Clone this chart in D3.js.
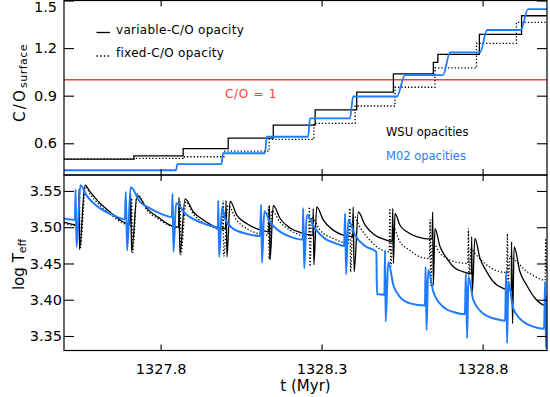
<!DOCTYPE html>
<html>
<head>
<meta charset="utf-8">
<script src="https://cdn.jsdelivr.net/npm/d3@7"></script>
<style>
  body { margin: 0; background: #fff; }
  svg { display: block; font-family: "DejaVu Sans", sans-serif; }
</style>
</head>
<body>
<div id="chart"></div>
<script>
// surface C/O, [t (Myr), C/O] -- steps after each pulse
const coVariable = [[1327.500,0.500],[1327.717,0.520],[1327.870,0.566],[1328.010,0.633],[1328.150,0.715],[1328.280,0.810],
  [1328.409,0.922],[1328.523,1.037],[1328.647,1.110],[1328.661,1.161],[1328.790,1.287],[1328.921,1.404],[1329.000,1.404]]
const coFixed = [[1327.500,0.500],[1327.717,0.505],[1327.870,0.515],[1327.997,0.551],[1328.137,0.625],[1328.276,0.726],
  [1328.404,0.835],[1328.528,0.953],[1328.652,1.075],[1328.781,1.230],[1328.905,1.362],[1329.000,1.362]]
const coM02 = [[1327.500,0.430],[1327.848,0.430],[1327.852,0.468],[1327.989,0.468],[1327.994,0.537],[1328.124,0.537],
  [1328.130,0.641],[1328.258,0.641],[1328.264,0.757],[1328.388,0.757],[1328.398,0.895],[1328.534,0.895],[1328.559,1.030],
  [1328.677,1.030],[1328.699,1.173],[1328.792,1.173],[1328.814,1.314],[1328.919,1.314],[1328.941,1.446],[1329.000,1.446]]

// log Teff, [t (Myr), log Teff]
const teffVariable = [[1327.500,3.507],[1327.545,3.503],[1327.547,3.553],[1327.548,3.469],[1327.565,3.558],[1327.581,3.549],
  [1327.612,3.533],[1327.643,3.521],[1327.674,3.510],[1327.704,3.504],
  [1327.707,3.545],[1327.710,3.466],[1327.727,3.544],[1327.757,3.526],[1327.798,3.512],[1327.829,3.503],[1327.856,3.500],
  [1327.857,3.541],[1327.860,3.463],[1327.876,3.539],[1327.902,3.521],[1327.933,3.510],[1327.974,3.500],[1328.002,3.498],
  [1328.003,3.537],[1328.006,3.459],[1328.016,3.536],[1328.036,3.517],[1328.067,3.505],[1328.098,3.498],[1328.136,3.494],
  [1328.138,3.530],[1328.140,3.455],[1328.150,3.530],[1328.171,3.512],[1328.202,3.499],[1328.233,3.493],[1328.273,3.489],
  [1328.274,3.526],[1328.276,3.448],[1328.285,3.528],[1328.305,3.510],[1328.336,3.496],[1328.367,3.489],[1328.397,3.487],
  [1328.398,3.528],[1328.401,3.4385],[1328.414,3.521],[1328.435,3.503],[1328.466,3.489],[1328.497,3.483],[1328.519,3.480],
  [1328.521,3.526],[1328.523,3.450],[1328.528,3.519],[1328.543,3.503],[1328.564,3.494],[1328.595,3.487],[1328.643,3.4835],
  [1328.645,3.521],[1328.647,3.420],[1328.652,3.498],[1328.668,3.473],[1328.689,3.457],[1328.709,3.4455],[1328.740,3.4385],[1328.765,3.436],
  [1328.766,3.487],[1328.768,3.409],[1328.776,3.4845],[1328.792,3.457],[1328.813,3.4385],[1328.833,3.425],[1328.864,3.4157],[1328.889,3.413],
  [1328.890,3.480],[1328.893,3.367],[1328.898,3.473],[1328.916,3.4385],[1328.937,3.420],[1328.963,3.402],[1328.988,3.393],[1329.000,3.392]]
const teffFixed = [[1327.500,3.505],[1327.545,3.502],[1327.548,3.548],[1327.550,3.470],[1327.567,3.556],[1327.581,3.546],
  [1327.612,3.530],[1327.643,3.518],[1327.674,3.508],[1327.708,3.502],
  [1327.710,3.540],[1327.713,3.465],[1327.727,3.546],[1327.757,3.524],[1327.798,3.510],[1327.829,3.502],[1327.858,3.499],
  [1327.861,3.535],[1327.863,3.462],[1327.879,3.535],[1327.902,3.518],[1327.933,3.506],[1327.974,3.498],[1327.992,3.496],
  [1327.994,3.537],[1327.996,3.460],[1328.009,3.530],[1328.036,3.510],[1328.067,3.498],[1328.098,3.492],[1328.133,3.489],
  [1328.135,3.528],[1328.137,3.456],[1328.145,3.523],[1328.171,3.507],[1328.202,3.496],[1328.233,3.489],[1328.260,3.4845],
  [1328.262,3.528],[1328.264,3.446],[1328.269,3.514],[1328.295,3.496],[1328.336,3.4845],[1328.383,3.478],
  [1328.388,3.526],[1328.390,3.4385],[1328.398,3.517],[1328.419,3.500],[1328.450,3.482],[1328.481,3.470],[1328.510,3.466],
  [1328.512,3.526],[1328.515,3.446],[1328.522,3.500],[1328.543,3.480],[1328.575,3.468],[1328.606,3.459],[1328.635,3.457],
  [1328.637,3.510],[1328.639,3.420],[1328.644,3.480],[1328.668,3.464],[1328.699,3.4546],[1328.730,3.451],[1328.754,3.450],
  [1328.756,3.498],[1328.758,3.434],[1328.764,3.470],[1328.776,3.464],[1328.807,3.450],[1328.839,3.441],[1328.875,3.4376],
  [1328.877,3.491],[1328.879,3.420],[1328.885,3.460],[1328.901,3.4546],[1328.932,3.441],[1328.963,3.432],[1328.994,3.427],
  [1328.996,3.4845],[1328.998,3.4385],[1329.000,3.445]]
const teffM02 = [[1327.500,3.512],[1327.534,3.510],[1327.536,3.552],[1327.539,3.473],[1327.551,3.558],[1327.570,3.544],
  [1327.612,3.526],[1327.652,3.517],[1327.689,3.511],
  [1327.692,3.549],[1327.696,3.468],[1327.707,3.555],[1327.736,3.535],[1327.767,3.526],[1327.798,3.519],[1327.835,3.514],
  [1327.837,3.546],[1327.840,3.466],[1327.848,3.533],[1327.876,3.519],[1327.922,3.507],[1327.969,3.500],[1327.978,3.498],
  [1327.979,3.537],[1327.982,3.459],[1327.991,3.528],[1328.000,3.512],[1328.025,3.498],[1328.067,3.491],[1328.109,3.488],
  [1328.112,3.531],[1328.115,3.451],[1328.122,3.522],[1328.140,3.507],[1328.171,3.494],[1328.202,3.487],[1328.241,3.483],
  [1328.243,3.526],[1328.246,3.443],[1328.254,3.517],[1328.280,3.498],[1328.311,3.484],[1328.342,3.478],[1328.370,3.474],
  [1328.373,3.519],[1328.376,3.435],[1328.383,3.510],[1328.404,3.489],[1328.435,3.474],[1328.470,3.466],
  [1328.472,3.408],[1328.495,3.407],
  [1328.497,3.468],[1328.499,3.370],[1328.507,3.452],[1328.523,3.420],[1328.543,3.404],[1328.575,3.395],[1328.621,3.392],
  [1328.623,3.445],[1328.626,3.358],[1328.631,3.441],[1328.647,3.411],[1328.678,3.390],[1328.709,3.383],[1328.745,3.380],
  [1328.748,3.436],[1328.752,3.347],[1328.756,3.432],[1328.771,3.400],[1328.802,3.381],[1328.844,3.373],[1328.870,3.371],
  [1328.873,3.439],[1328.876,3.340],[1328.880,3.425],[1328.895,3.388],[1328.926,3.370],[1328.957,3.363],[1328.991,3.360],
  [1328.994,3.425],[1328.997,3.333],[1329.000,3.406]]

const timeTicks = [1327.8, 1328.3, 1328.8]
const coTicks = [0.6, 0.9, 1.2, 1.5]
const teffTicks = [3.35, 3.40, 3.45, 3.50, 3.55]
const coOne = 1.0

const width = 550, height = 397
const left = 64, right = 547
const top1 = 0.5, bot1 = 175, top2 = 175, bot2 = 350.5
const blue = "#1f7bff", red = "#ff3c3c"

const svg = d3.select("#chart").append("svg")
    .attr("width", width)
    .attr("height", height)

const x = d3.scaleLinear().domain([1327.5, 1329.0]).range([left, right])
const yCO = d3.scaleLinear().domain([0.4, 1.5]).range([bot1, top1])
const yT = d3.scaleLinear().domain([3.33, 3.572]).range([bot2, top2])

// clip each panel
const defs = svg.append("defs")
defs.append("clipPath").attr("id", "clipTop").append("rect")
    .attr("x", left).attr("y", top1).attr("width", right - left).attr("height", bot1 - top1)
defs.append("clipPath").attr("id", "clipBot").append("rect")
    .attr("x", left).attr("y", top2).attr("width", right - left).attr("height", bot2 - top2)

// ---- top panel: C/O
const gTop = svg.append("g").attr("clip-path", "url(#clipTop)")

gTop.append("line")
    .attr("x1", x(1327.5)).attr("x2", x(1329.0))
    .attr("y1", yCO(coOne)).attr("y2", yCO(coOne))
    .attr("stroke", red).attr("stroke-width", 1.5)

const coStep = d3.line().x(d => x(d[0])).y(d => yCO(d[1])).curve(d3.curveStepAfter)
const coSmooth = d3.line().x(d => x(d[0])).y(d => yCO(d[1])).curve(d3.curveMonotoneX)

gTop.append("path").datum(coFixed)
    .attr("d", coStep).attr("fill", "none")
    .attr("stroke", "#000").attr("stroke-width", 1.3).attr("stroke-dasharray", "1.3,2")
gTop.append("path").datum(coVariable)
    .attr("d", coStep).attr("fill", "none")
    .attr("stroke", "#000").attr("stroke-width", 1.3)
gTop.append("path").datum(coM02)
    .attr("d", coSmooth).attr("fill", "none")
    .attr("stroke", blue).attr("stroke-width", 1.8)

// ---- bottom panel: log Teff
const gBot = svg.append("g").attr("clip-path", "url(#clipBot)")
const teffLine = d3.line().x(d => x(d[0])).y(d => yT(d[1])).curve(d3.curveMonotoneX)

gBot.append("path").datum(teffVariable)
    .attr("d", teffLine).attr("fill", "none")
    .attr("stroke", "#000").attr("stroke-width", 1.3)
gBot.append("path").datum(teffFixed)
    .attr("d", teffLine).attr("fill", "none")
    .attr("stroke", "#000").attr("stroke-width", 1.3).attr("stroke-dasharray", "1.3,2")
gBot.append("path").datum(teffM02)
    .attr("d", teffLine).attr("fill", "none")
    .attr("stroke", blue).attr("stroke-width", 2)

// ---- axes (ticks point inward, like the original)
function panelAxes(y, ticks, yTop, yBot, fmt, pad, xLabels) {
    const styleAxis = g => {
        g.select(".domain").remove()
        g.attr("font-family", "DejaVu Sans").attr("font-size", 14.5)
        g.selectAll(".tick line").attr("stroke-width", 1.1)
        g.selectAll("text").attr("fill", "#000")
    }
    const yAxis = svg.append("g").attr("transform", `translate(${left},0)`)
        .call(d3.axisLeft(y).tickValues(ticks).tickSize(-10).tickPadding(pad).tickFormat(fmt))
        .call(styleAxis)
    // the top label would be cut by the page edge, nudge it down like the original
    yAxis.selectAll(".tick text").filter(d => y(d) < 6).attr("y", 6.2)
    svg.append("g").attr("transform", `translate(${right},0)`)
        .call(d3.axisRight(y).tickValues(ticks).tickSize(-10).tickFormat(""))
        .call(styleAxis)
    svg.append("g").attr("transform", `translate(0,${yTop})`)
        .call(d3.axisTop(x).tickValues(timeTicks).tickSize(-6).tickFormat(""))
        .call(styleAxis)
    svg.append("g").attr("transform", `translate(0,${yBot})`)
        .call(d3.axisBottom(x).tickValues(timeTicks).tickSize(-6).tickPadding(13)
            .tickFormat(xLabels ? d3.format(".1f") : ""))
        .call(styleAxis)
    svg.append("rect")
        .attr("x", left).attr("y", yTop)
        .attr("width", right - left).attr("height", yBot - yTop)
        .attr("fill", "none").attr("stroke", "#000").attr("stroke-width", 1.2)
}
panelAxes(yCO, coTicks, top1, bot1, d3.format(".1f"), 7, false)
panelAxes(yT, teffTicks, top2, bot2, d3.format(".2f"), 2, true)

// ---- axis titles
const yTitle1 = svg.append("text")
    .attr("transform", "translate(24.5,122) rotate(-90)")
    .attr("font-size", 15).attr("letter-spacing", 2.2)
yTitle1.append("tspan").text("C/O")
yTitle1.append("tspan").attr("font-size", 11).attr("dy", 2).attr("letter-spacing", 0.5).text("surface")

const yTitle2 = svg.append("text")
    .attr("transform", "translate(24,290) rotate(-90)")
    .attr("font-size", 15)
yTitle2.append("tspan").text("log T")
yTitle2.append("tspan").attr("font-size", 11).attr("dy", 2).text("eff")

svg.append("text")
    .attr("x", (left + right) / 2).attr("y", 390.5)
    .attr("text-anchor", "middle").attr("font-size", 15)
    .text("t (Myr)")

// ---- legend and notes
svg.append("line").attr("x1", 96.5).attr("x2", 110).attr("y1", 32.5).attr("y2", 32.5)
    .attr("stroke", "#000").attr("stroke-width", 1.3)
svg.append("text").attr("x", 116).attr("y", 33.5)
    .attr("font-size", 12).attr("letter-spacing", 0.28)
    .text("variable-C/O opacity")

svg.append("line").attr("x1", 96.5).attr("x2", 110).attr("y1", 56).attr("y2", 56)
    .attr("stroke", "#000").attr("stroke-width", 1.3).attr("stroke-dasharray", "1.5,2.2")
svg.append("text").attr("x", 116).attr("y", 57.3)
    .attr("font-size", 12).attr("letter-spacing", 0.28)
    .text("fixed-C/O opacity")

svg.append("text").attr("x", 225).attr("y", 98.3)
    .attr("font-size", 12).attr("letter-spacing", 0.7).attr("fill", red)
    .text("C/O = 1")

svg.append("text").attr("x", 386).attr("y", 136)
    .attr("font-size", 11.5)
    .text("WSU opacities")
svg.append("text").attr("x", 386).attr("y", 160)
    .attr("font-size", 11.5).attr("fill", blue)
    .text("M02 opacities")
</script>
</body>
</html>
